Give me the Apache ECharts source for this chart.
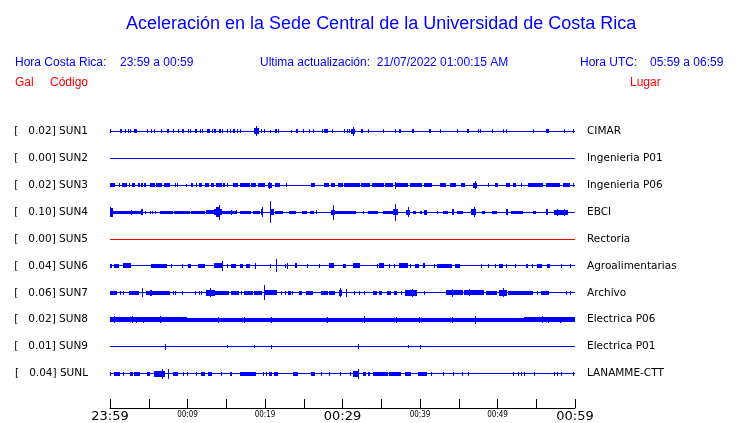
<!DOCTYPE html>
<html>
<head>
<meta charset="utf-8">
<script src="https://cdn.jsdelivr.net/npm/echarts@6/dist/echarts.min.js"></script>
<style>
html,body{margin:0;padding:0;background:#fff;}
#chart{width:740px;height:423px;}
</style>
</head>
<body>
<div id="chart"></div>
<script>
// ---------- data ----------
const TITLE = 'Aceleración en la Sede Central de la Universidad de Costa Rica';
const HORA_CR = '23:59 a 00:59';
const ACTUALIZACION = '21/07/2022 01:00:15 AM';
const HORA_UTC = '05:59 a 06:59';
const CODES = ['SUN1','SUN2','SUN3','SUN4','SUN5','SUN6','SUN7','SUN8','SUN9','SUNL'];
const PLACES = ['CIMAR','Ingenieria P01','Ingenieria P06','EBCI','Rectoria','Agroalimentarias','Archivo','Electrica P06','Electrica P01','LANAMME-CTT'];
const PEAK_GAL = [0.02,0.00,0.02,0.10,0.00,0.04,0.06,0.02,0.01,0.04];
const TICK_LABELS = ['23:59','00:09','00:19','00:29','00:39','00:49','00:59'];
const T_START = 0, T_END = 60;   // minutes after 23:59
const AMP_PER_BAND = 27;          // amplitude counts spanning one trace band

// events: [start minute, end minute, half amplitude]
const EV_SUN1 = [[0.1,0.1,2],[1.3,1.5,2],[2.0,2.0,2],[2.4,2.4,2],[2.7,2.7,2],[3.2,3.5,2],[4.9,4.9,2],[5.4,5.4,2],[5.8,5.8,2],[6.7,6.7,2],[7.4,7.6,2],[8.2,8.2,2],[8.8,8.8,2],[9.4,9.6,2],[10.1,10.1,2],[10.4,10.4,2],[11.0,11.2,2],[11.7,11.7,2],[11.9,11.9,2],[12.6,12.9,2],[13.2,13.2,2],[13.5,13.5,2],[13.6,13.6,2],[14.1,14.3,2],[14.5,14.5,2],[15.2,15.2,2],[15.5,15.5,2],[15.9,15.9,2],[16.1,16.1,2],[16.4,16.4,2],[16.9,16.9,2],[18.7,19.2,3],[18.9,18.9,5],[19.6,19.6,2],[19.9,19.9,2],[20.7,20.7,1.5],[21.3,21.3,2],[21.5,21.5,2],[21.7,21.7,2],[23.4,23.4,1.5],[24.1,24.3,2],[25.0,25.0,2],[25.8,25.8,2],[26.2,26.2,2],[27.4,27.4,2],[27.7,28.1,2],[28.7,28.7,2],[30.3,30.3,2],[30.6,30.6,2],[30.9,30.9,2],[31.2,31.6,2.5],[31.4,31.4,4.5],[32.4,32.6,2],[33.4,33.4,2],[35.3,35.3,2],[36.9,36.9,2],[37.4,37.6,2],[39.0,39.0,2],[39.2,39.2,2],[41.2,41.4,2],[42.6,42.6,2],[44.9,44.9,2],[46.1,46.3,2],[47.5,47.5,2],[47.8,47.8,2],[49.3,49.3,2],[50.8,50.8,2],[51.1,51.1,2],[54.6,54.6,2],[56.3,56.6,2],[58.7,58.7,2],[59.8,59.8,2]];
const EV_SUN2 = [];
const EV_SUN3 = [[0.0,0.7,2],[1.2,1.2,2],[1.6,2.2,2],[2.5,2.5,2],[2.9,3.2,2],[3.7,3.9,2],[4.0,4.2,2],[4.4,4.7,2],[5.2,5.8,2],[6.0,6.7,2],[7.0,7.7,2],[8.5,8.5,2],[8.7,8.7,2],[9.9,9.9,1.5],[10.5,10.5,2],[10.6,10.6,2],[11.2,11.2,2],[11.6,11.9,2],[12.3,12.8,2],[13.1,13.4,2],[13.8,14.4,2],[14.6,14.9,2],[15.2,15.2,2],[15.9,16.5,2],[16.8,18.1,2],[18.3,18.8,2],[19.1,20.0,2],[20.4,20.9,2.5],[20.6,20.6,3.5],[21.3,21.9,2],[22.8,22.8,2],[26.0,26.4,2],[27.7,28.2,2],[28.6,29.0,2],[29.5,30.1,2],[30.2,32.3,2],[32.5,33.6,2],[33.9,35.3,2],[35.5,36.5,2],[36.8,36.8,3.5],[37.0,38.4,2],[38.8,40.2,2],[40.6,41.5,2],[42.6,43.4,2],[43.9,44.7,2],[45.4,45.8,2],[46.9,47.3,2.5],[47.1,47.1,4],[48.8,48.8,2],[49.7,50.1,2],[51.2,51.6,2],[52.0,52.4,2],[53.1,53.1,2],[54.0,55.9,2],[56.3,58.1,2],[58.5,59.4,2],[59.8,59.8,2]];
const EV_SUN4 = [[0.0,0.4,4.5],[0.1,0.1,5],[0.4,4.1,1.5],[2.8,2.8,2.5],[4.1,4.3,3],[4.6,4.6,1.5],[5.2,5.2,1.5],[5.5,5.5,1.5],[5.9,5.9,1.5],[6.5,8.1,1.5],[8.3,10.3,1.5],[10.5,12.2,1.5],[12.4,13.8,2],[13.5,14.4,3],[13.8,14.2,5],[14.1,14.1,7.5],[14.4,16.4,1.5],[15.7,15.7,2.5],[16.3,16.3,2],[16.8,18.2,1.5],[18.5,19.3,1.5],[19.5,19.8,3],[19.65,19.65,5],[20.65,20.65,11],[20.8,21.1,3],[21.3,22.3,1.5],[23.1,24.0,1.5],[24.8,25.4,1.5],[25.9,26.3,1.5],[26.6,26.6,2],[28.6,29.0,2.5],[28.8,28.8,7.5],[29.0,31.8,1.5],[32.7,32.7,1.5],[33.3,34.6,1.5],[35.3,36.8,1.5],[36.6,37.1,3],[36.85,36.85,8.5],[38.3,38.7,2.5],[38.5,38.5,5],[39.2,39.5,1.5],[40.0,40.2,1.5],[40.6,40.9,2.5],[42.2,42.2,1.5],[43.0,43.6,1.5],[44.2,44.4,3],[44.9,45.6,1.5],[46.7,47.2,3],[47.0,47.0,5],[48.0,48.4,1.5],[49.4,49.9,1.5],[51.1,51.3,3],[51.8,53.3,1.5],[54.6,55.0,1.5],[56.3,56.5,3],[57.4,59.1,2.5],[57.8,57.8,3.5],[58.6,58.6,3.5]];
const EV_SUN5 = [];
const EV_SUN6 = [[0.0,0.2,2],[0.6,1.1,2],[1.8,2.7,2.5],[5.4,7.3,2],[7.9,7.9,2],[9.3,9.3,2],[10.1,10.5,2],[11.4,12.2,2],[13.5,14.6,2.5],[14.5,14.5,5],[15.1,15.1,2],[15.7,16.3,2],[16.8,17.2,2],[17.6,18.1,2],[18.8,18.8,3],[20.7,20.7,2],[21.5,21.5,6.5],[22.6,22.6,2],[22.9,22.9,3],[23.9,24.1,2.5],[25.5,25.5,2],[27.0,27.0,2],[28.3,28.9,2.5],[30.1,30.5,2],[31.4,32.2,2.5],[34.5,34.5,2],[34.8,35.3,2.5],[36.0,36.0,2],[36.7,36.8,2],[37.4,38.5,2.5],[38.8,38.8,2],[39.4,39.9,2],[40.5,40.6,2.5],[41.9,41.9,2],[42.2,44.1,2],[44.6,45.1,2],[47.9,48.0,2],[48.9,48.9,2],[49.7,49.7,2],[50.3,50.7,2],[51.2,51.2,2],[52.3,52.4,2],[53.7,53.9,2],[54.5,54.5,2],[55.1,55.7,2],[56.4,56.8,2],[58.2,58.2,2],[59.4,59.4,2]];
const EV_SUN7 = [[0.0,0.9,2],[1.3,1.3,2],[1.7,1.7,2],[2.5,3.7,2],[4.2,4.2,4.5],[4.7,7.7,2],[5.2,5.4,3],[8.2,8.2,2],[8.5,8.5,2],[9.3,9.3,2],[11.0,11.0,2],[11.5,11.5,2],[11.8,11.8,2],[12.5,13.5,3],[13.0,13.0,4.5],[13.5,15.3,2],[15.7,16.6,2],[17.0,17.0,2],[17.4,18.5,2],[18.7,19.6,2],[19.9,19.9,7.5],[20.0,21.5,2.5],[22.1,22.1,2],[22.6,22.6,2],[23.0,23.3,2],[23.5,23.5,2],[24.5,24.8,2],[25.3,26.2,2],[27.3,28.1,2],[28.3,29.0,2],[29.6,29.9,3],[29.75,29.75,4.5],[30.5,30.5,4],[31.6,31.6,2],[32.2,32.2,2],[32.9,32.9,2],[34.0,34.4,2],[34.8,35.1,2],[35.8,36.2,2],[36.7,37.0,2],[37.6,37.6,2],[38.1,39.6,3],[39.0,39.0,4],[40.6,40.6,2],[43.4,45.6,2.5],[44.2,44.2,4],[45.8,48.2,2.5],[46.4,46.4,3.5],[48.6,49.9,2],[50.3,51.2,3],[50.8,50.8,4.5],[51.4,54.6,2],[55.1,55.1,2],[55.7,56.6,2],[58.9,58.9,2],[59.4,59.4,2]];
const EV_SUN8 = [[0.0,9.9,2.5],[9.9,53.5,2],[53.5,60.0,2.5],[0.6,0.6,3.5],[2.9,2.9,3.5],[3.4,3.4,3],[4.3,4.3,3],[6.5,6.5,3.5],[14.0,14.0,3],[17.4,17.4,3],[20.8,20.8,3],[28.0,28.0,3],[32.9,32.9,3.5],[37.0,37.0,3],[39.9,39.9,3],[44.2,44.2,3],[47.1,47.1,4],[55.8,55.8,3.5],[56.6,56.6,3],[58.1,58.1,3]];
const EV_SUN9 = [[7.1,7.1,3],[15.1,15.1,1.5],[18.7,18.7,1.5],[20.8,20.8,2],[32.0,32.0,2.5],[38.5,38.5,1.5],[40.0,40.1,2]];
const EV_SUNL = [[0.1,0.1,2],[0.6,1.3,2],[1.7,1.7,2],[2.6,3.0,2],[3.2,3.9,2],[4.9,5.2,2],[5.7,7.1,3],[6.75,6.75,5],[7.5,7.5,5],[8.2,8.8,2],[9.5,9.5,2],[10.0,10.1,2],[11.2,11.2,2],[11.8,12.3,2],[12.7,13.1,2],[14.4,14.4,2],[15.5,15.5,2],[15.7,15.7,2],[16.8,18.9,2],[19.8,19.8,2],[20.2,20.2,2],[20.6,20.9,2],[21.2,21.7,2],[23.7,24.3,2],[26.0,26.5,2],[27.3,27.3,2],[28.3,28.3,2],[29.7,29.7,2],[31.0,31.0,2],[31.4,32.0,3],[32.0,32.0,5],[32.7,33.0,2],[33.3,33.5,2],[34.0,35.9,2],[36.1,37.6,2],[38.1,38.9,2],[39.8,40.9,2],[41.5,41.5,2],[43.0,43.0,2],[44.3,44.3,2],[45.5,45.5,2],[46.2,46.2,2],[52.0,52.0,2],[52.7,52.7,2],[53.1,53.1,2],[53.5,53.5,2],[54.8,54.8,2],[57.4,57.4,2],[57.8,57.8,2],[58.2,58.2,2],[59.8,59.8,2]];
const EVENTS = [EV_SUN1,EV_SUN2,EV_SUN3,EV_SUN4,EV_SUN5,EV_SUN6,EV_SUN7,EV_SUN8,EV_SUN9,EV_SUNL];

// ---------- chart ----------
const BLUE = '#0000ff', RED = '#ff0000';
const BASELINE_AMP = 0.5;         // visual half-thickness of the quiet trace line (1px)
const traceColor = i => (CODES[i] === 'SUN5' ? RED : BLUE);

function renderItem(params, api) {
  const t0 = api.value(0), t1 = api.value(1), ch = api.value(2), a = api.value(3);
  const p0 = api.coord([t0, ch]);
  const p1 = api.coord([t1, ch]);
  const band = api.size([0, 1])[1];
  const h = a * band / AMP_PER_BAND;
  const c = p0[1];
  const x = Math.floor(p0[0]);
  const w = Math.max(1, Math.round(p1[0]) - x);
  const rows = Math.max(1, Math.round(2 * h));
  const top = Math.floor(c - rows / 2 + 0.5);
  return {
    type: 'rect',
    shape: { x: x, y: top, width: w, height: rows },
    style: { fill: api.visual('color') }
  };
}

const series = CODES.map((code, i) => {
  const data = [[T_START, T_END, i, BASELINE_AMP]].concat(EVENTS[i].map(e => [e[0], e[1], i, e[2]]));
  return {
    type: 'custom', name: code, xAxisIndex: 0, yAxisIndex: 0,
    renderItem: renderItem, encode: { x: [0, 1], y: 2 },
    itemStyle: { color: traceColor(i) }, silent: true, animation: false,
    data: data
  };
});

const headerFont = { fontFamily: 'Liberation Sans, Arial, sans-serif', fontSize: 12 };
function txt(x, y, s, color) {
  return { type: 'text', left: x, top: y, style: Object.assign({ text: s, fill: color }, headerFont), silent: true };
}

const chart = echarts.init(document.getElementById('chart'), null, { renderer: 'canvas' });
chart.setOption({
  animation: false,
  backgroundColor: '#ffffff',
  title: {
    text: TITLE, left: 121, top: 10,
    textStyle: { color: BLUE, fontSize: 18, fontWeight: 'normal', fontFamily: 'Liberation Sans, Arial, sans-serif' }
  },
  graphic: [
    txt(15, 57, 'Hora Costa Rica:', BLUE),
    txt(120, 57, HORA_CR, BLUE),
    txt(260, 57, 'Ultima actualización:  ' + ACTUALIZACION, BLUE),
    txt(580, 57, 'Hora UTC:', BLUE),
    txt(650, 57, HORA_UTC, BLUE),
    txt(15, 77, 'Gal', RED),
    txt(50, 77, 'Código', RED),
    txt(630, 77, 'Lugar', RED)
  ],
  grid: { left: 110, right: 165, top: 118, bottom: 35, containLabel: false },
  xAxis: {
    type: 'value', min: T_START, max: T_END, interval: 5, offset: 21,
    axisLine: { show: true, lineStyle: { color: '#000', width: 1 } },
    axisTick: { show: true, inside: true, length: 9, lineStyle: { color: '#000' } },
    splitLine: { show: false },
    axisLabel: {
      margin: 2, showMinLabel: true, showMaxLabel: true,
      formatter: v => {
        if (v % 10 !== 0) return '';
        const s = TICK_LABELS[v / 10];
        return (v % 30 === 0) ? '{big|' + s + '}' : '{small|' + s + '}';
      },
      rich: {
        big: { fontSize: 13, fontFamily: 'DejaVu Sans', color: '#000' },
        small: { fontSize: 8, fontFamily: 'DejaVu Sans Condensed, DejaVu Sans', color: '#000', padding: [1, 0, 0, 0] }
      }
    }
  },
  yAxis: [
    {
      type: 'category', inverse: true, data: CODES, position: 'left',
      axisLine: { show: false }, axisTick: { show: false }, splitLine: { show: false },
      axisLabel: {
        margin: 22, color: '#000', fontSize: 10.5, fontFamily: 'DejaVu Sans',
        formatter: (v, i) => '[   ' + PEAK_GAL[i].toFixed(2) + '] ' + v
      }
    },
    {
      type: 'category', inverse: true, data: PLACES, position: 'right',
      axisLine: { show: false }, axisTick: { show: false }, splitLine: { show: false },
      axisLabel: { margin: 12, color: '#000', fontSize: 10.5, fontFamily: 'DejaVu Sans', align: 'left' }
    }
  ],
  series: series
});
</script>
</body>
</html>
